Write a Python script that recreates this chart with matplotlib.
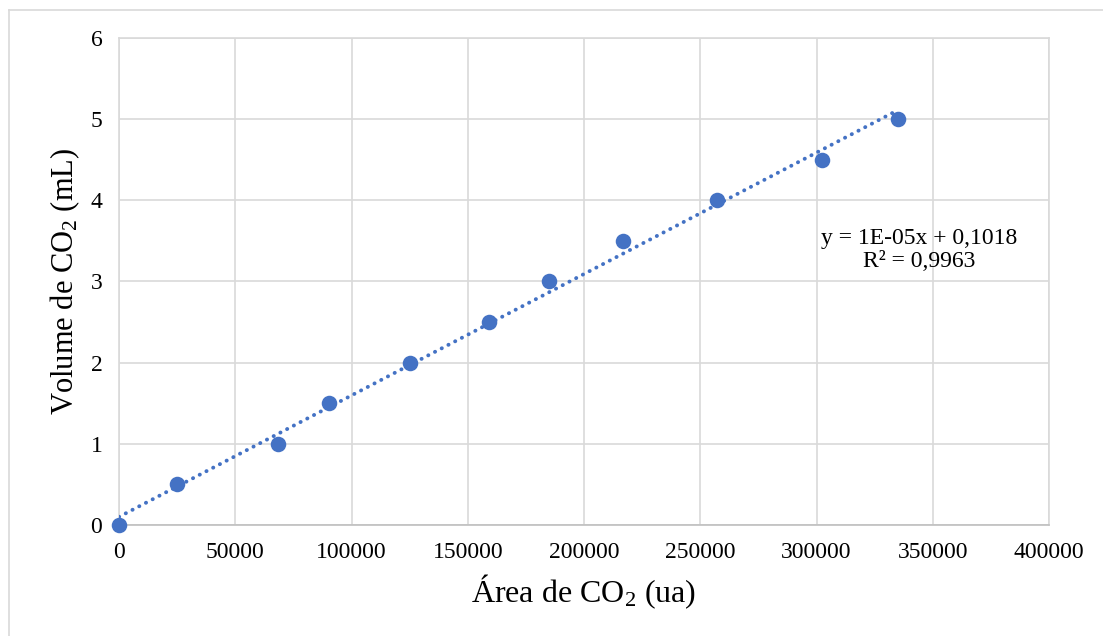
import matplotlib

matplotlib.use("Agg")

import matplotlib.pyplot as plt
import numpy as np
from matplotlib.lines import Line2D

plt.rcParams["font.family"] = ["Liberation Serif", "DejaVu Serif"]
plt.rcParams["mathtext.fontset"] = "custom"
plt.rcParams["mathtext.rm"] = "Liberation Serif"
plt.rcParams["mathtext.it"] = "Liberation Serif:italic"

# calibration points: peak area vs injected CO2 volume
area = [0, 25000, 68500, 90500, 125000, 159000, 185000, 216800, 257200, 302400, 335000]
volume = [0, 0.5, 1.0, 1.5, 2.0, 2.5, 3.0, 3.5, 4.0, 4.5, 5.0]
x_ticks = [0, 50000, 100000, 150000, 200000, 250000, 300000, 350000, 400000]
y_ticks = [0, 1, 2, 3, 4, 5, 6]
eq_label = "y = 1E-05x + 0,1018\nR² = 0,9963"

blue = "#4472C4"
grid = "#d9d9d9"

fig = plt.figure(figsize=(11.03, 6.36), dpi=100)
ax = fig.add_axes([0.1079, 0.1745, 0.8432, 0.7658])

# linear trendline over the data range, drawn as round dots
slope, intercept = np.polyfit(area, volume, 1)
xs = np.array([min(area), max(area)])
ax.plot(xs, slope * xs + intercept, color=blue, lw=2.8,
        linestyle=(0, (0.05, 1.9)), dash_capstyle="round", zorder=3)
ax.scatter(area, volume, s=125, color=blue, zorder=4, linewidths=0, clip_on=False)

ax.set_xlim(0, 400000)
ax.set_ylim(0, 6)
ax.set_xticks(x_ticks)
ax.set_yticks(y_ticks)
ax.grid(True, color=grid, lw=1.2)
ax.set_axisbelow(True)
for side in ax.spines.values():
    side.set_color(grid)
    side.set_linewidth(1.2)
ax.spines["bottom"].set_color("#bfbfbf")
ax.tick_params(length=0, labelsize=17, pad=12)

ax.set_xlabel("Área de CO$_2$ (ua)", fontsize=23, labelpad=7)
ax.set_ylabel("Volume de CO$_2$ (mL)", fontsize=22, labelpad=6)

ax.text(344000, 3.39, eq_label, fontsize=17, ha="center", va="center",
        linespacing=1.15)

# chart area frame (only left and top edges fall inside the canvas)
fig.add_artist(Line2D([9 / 1103, 9 / 1103], [0, 1 - 10 / 636], color=grid, lw=1.2))
fig.add_artist(Line2D([9 / 1103, 1], [1 - 10 / 636, 1 - 10 / 636], color=grid, lw=1.2))

fig.savefig("out.png", dpi=100)
